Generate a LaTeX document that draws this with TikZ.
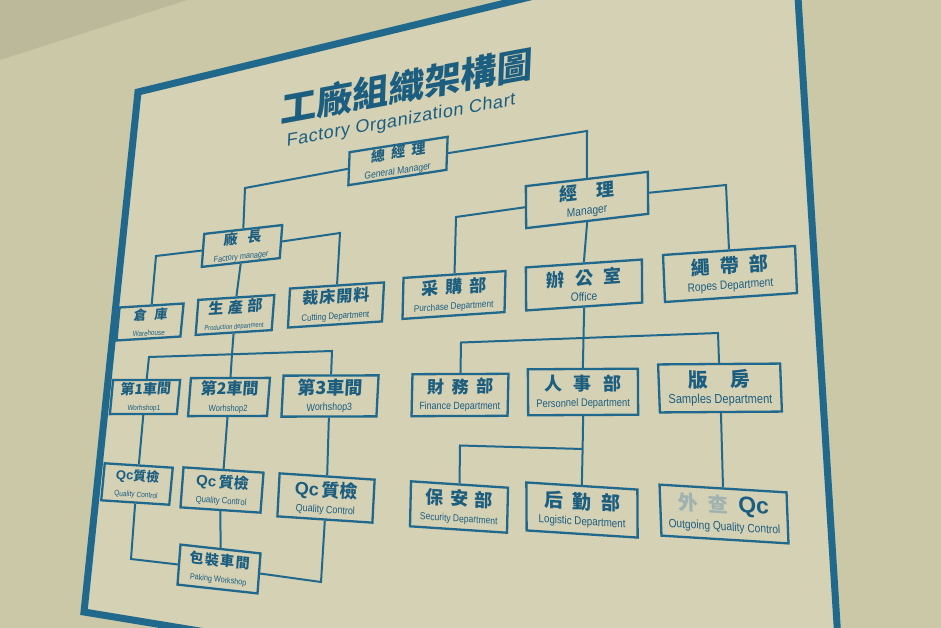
\documentclass[tikz,border=0pt]{standalone}
\usepackage{fontspec}
\newfontfamily\zh{Noto Sans CJK TC}
\newfontfamily\en[FakeStretch=0.85]{Liberation Sans}
\newfontfamily\enw{Liberation Sans}
\newfontfamily\ensub[LetterSpace=3]{Liberation Sans}
\definecolor{wall}{HTML}{CBC8A7}
\definecolor{ceil}{HTML}{BCB99B}
\definecolor{board}{HTML}{D5D1B5}
\definecolor{ink}{HTML}{1C5E80}
\definecolor{rule}{HTML}{21698C}
\definecolor{fade}{HTML}{9FB2B0}
\newcommand{\zsp}[1]{\hspace{#1em}}
\newcommand{\bt}[4]{{\zh\bfseries\fontsize{#1}{#1}\selectfont #2}\\[4.5pt]{\en\fontsize{#3}{#3}\selectfont #4}}
\newcommand{\qcb}{\enw\bfseries}
\begin{document}
\begin{tikzpicture}[x=1pt,y=-1pt,
  box/.style={draw=rule, line width=2.3pt, inner sep=1pt, align=center, text=ink},
  ln/.style={draw=rule, line width=2pt, line join=miter}]
\useasboundingbox (0,0) rectangle (941,628);
\clip (0,0) rectangle (941,628);
% wall, ceiling, board
\fill[wall] (0,0) rectangle (941,628);
\fill[ceil] (0,0) -- (187,0) -- (0,60) -- cycle;
\fill[board] (138,92) -- (794,-67) -- (844,737) -- (84,612) -- cycle;
\draw[rule, line width=7pt, line join=miter] (138,92) -- (794,-67) -- (844,737) -- (84,612) -- cycle;

% title
\node[text=ink, inner sep=0pt, cm={1,0.185,0.04,1,(0,0)}] (title) at (407,86)
  {\zh\bfseries\fontsize{36}{36}\selectfont 工廠組織架構圖};
\node[text=ink, inner sep=0pt, cm={1,0.18,0.04,1,(0,0)}] (subtitle) at (401,121)
  {\ensub\fontsize{18}{18}\selectfont Factory Organization Chart};

% level 1-2
\node[box, minimum width=98pt, minimum height=33pt, cm={1,0.157,0.038,1,(0,0)}] (gm) at (398,161)
  {\bt{14}{總\zsp{.45}經\zsp{.45}理}{10}{General Manager}};
\node[box, minimum width=122pt, minimum height=42pt, cm={1,0.117,-0.008,1,(0,0)}] (mg) at (587,200)
  {\bt{18}{經\zsp{1.1}理}{12}{Manager}};
\node[box, minimum width=78pt, minimum height=33pt, cm={1,0.113,0.075,1,(0,0)}] (fm) at (242,246)
  {\bt{14}{廠\zsp{.7}長}{8.5}{Factory manager}};

% level 3
\node[box, minimum width=64pt, minimum height=33pt, cm={1,0.062,0.096,1,(0,0)}] (wh) at (150,322)
  {\bt{13}{倉\zsp{.6}庫}{7.4}{Warehouse}};
\node[box, minimum width=76pt, minimum height=35pt, cm={1,0.063,0.076,1,(0,0)}] (pd) at (235,315)
  {\bt{15}{生\zsp{.3}產\zsp{.3}部}{6.9}{Production department}};
\node[box, minimum width=94pt, minimum height=39pt, cm={1,0.065,0.052,1,(0,0)}] (ct) at (336,305)
  {\bt{16}{裁\zsp{.05}床\zsp{.05}開\zsp{.05}料}{9.2}{Cutting Department}};
\node[box, minimum width=102pt, minimum height=41pt, cm={1,0.067,0.024,1,(0,0)}] (pu) at (454,295)
  {\bt{17}{采\zsp{.4}購\zsp{.4}部}{9.6}{Purchase Department}};
\node[box, minimum width=116pt, minimum height=43pt, cm={1,0.068,-0.007,1,(0,0)}] (of) at (584,285)
  {\bt{18}{辦\zsp{.6}公\zsp{.6}室}{12}{Office}};
\node[box, minimum width=132pt, minimum height=47pt, cm={1,0.068,-0.042,1,(0,0)}] (rp) at (730,274)
  {\bt{19}{繩\zsp{.55}帶\zsp{.55}部}{12}{Ropes Department}};

% workshops
\node[box, minimum width=67pt, minimum height=34pt, cm={1,0.003,0.095,1,(0,0)}] (w1) at (145,397)
  {\bt{14}{第1車間}{7.6}{Worhshop1}};
\node[box, minimum width=79pt, minimum height=38pt, cm={1,0.003,0.076,1,(0,0)}] (w2) at (229,397)
  {\bt{16}{第2車間}{9}{Worhshop2}};
\node[box, minimum width=95pt, minimum height=41pt, cm={1,0.003,0.052,1,(0,0)}] (w3) at (330,396)
  {\bt{18}{第3車間}{10.5}{Worhshop3}};

% quality control
\node[box, minimum width=68pt, minimum height=37pt, cm={1,-0.065,0.095,1,(0,0)}] (q1) at (137,484)
  {\bt{13}{{\qcb Qc}質檢}{7.7}{Quality Control}};
\node[box, minimum width=80pt, minimum height=40pt, cm={1,-0.066,0.076,1,(0,0)}] (q2) at (222,490)
  {\bt{15}{{\qcb Qc}\,質檢}{9}{Quality Control}};
\node[box, minimum width=95pt, minimum height=43pt, cm={1,-0.066,0.052,1,(0,0)}] (q3) at (326,498)
  {\bt{18}{{\qcb Qc}\,質檢}{10.5}{Quality Control}};
\node[box, minimum width=80pt, minimum height=40pt, cm={1,-0.11,0.075,1,(0,0)}] (pk) at (219,569)
  {\bt{14}{包\zsp{.1}裝\zsp{.1}車\zsp{.1}間}{8.5}{Paking Workshop}};

% office level
\node[box, minimum width=96pt, minimum height=42pt, cm={1,0.004,0.022,1,(0,0)}] (fi) at (460,395)
  {\bt{17}{財\zsp{.45}務\zsp{.45}部}{10.5}{Finance Department}};
\node[box, minimum width=110pt, minimum height=46pt, cm={1,0.005,-0.007,1,(0,0)}] (pe) at (583,392)
  {\bt{18}{人\zsp{.65}事\zsp{.65}部}{11}{Personnel Department}};
\node[box, minimum width=122pt, minimum height=48pt, cm={1,0.007,-0.038,1,(0,0)}] (sa) at (720,388)
  {\bt{20}{版\zsp{1.1}房}{13}{Samples Department}};
\node[box, minimum width=97pt, minimum height=45pt, cm={1,-0.066,0.022,1,(0,0)}] (se) at (459,507)
  {\bt{18}{保\zsp{.35}安\zsp{.35}部}{10}{Security Department}};
\node[box, minimum width=111pt, minimum height=48pt, cm={1,-0.064,-0.006,1,(0,0)}] (lo) at (582,510)
  {\bt{19}{后\zsp{.5}勤\zsp{.5}部}{11.5}{Logistic Department}};
\node[box, minimum width=127pt, minimum height=51pt, cm={1,-0.061,-0.038,1,(0,0)}] (oq) at (724,514)
  {\bt{20}{{\color{fade}外\zsp{.5}查}\zsp{.5}{\qcb\fontsize{23}{23}\selectfont Qc}}{12}{Outgoing Quality Control}};

% bend points
\coordinate (gl) at (245,188);
\coordinate (gr) at (587,131);
\coordinate (fl) at (156,256);
\coordinate (fr) at (340,233);
\coordinate (pb) at (232,354);
\coordinate (pbl) at (149,357);
\coordinate (pbr) at (332,351);
\coordinate (ql) at (131,559);
\coordinate (qr) at (321,582);
\coordinate (ml) at (456,217);
\coordinate (mr) at (726,185);
\coordinate (ob) at (583.5,338);
\coordinate (obl) at (461,342.5);
\coordinate (obr) at (718,333);
\coordinate (sb) at (582.6,449);
\coordinate (sbl) at (460,445.5);

% connectors
\draw[ln] (gm.west) -- (gl) -- (fm.north);
\draw[ln] (gm.east) -- (gr) -- (mg.north);
\draw[ln] (fm.west) -- (fl) -- (wh.north);
\draw[ln] (fm.south) -- (pd.north);
\draw[ln] (fm.east) -- (fr) -- (ct.north);
\draw[ln] (pd.south) -- (pb) -- (w2.north);
\draw[ln] (w1.north) -- (pbl) -- (pbr) -- (w3.north);
\draw[ln] (w1.south) -- (q1.north);
\draw[ln] (w2.south) -- (q2.north);
\draw[ln] (w3.south) -- (q3.north);
\draw[ln] (q1.south) -- (ql) -- (pk.west);
\draw[ln] (q2.south) -- (pk.north);
\draw[ln] (q3.south) -- (qr) -- (pk.east);
\draw[ln] (mg.west) -- (ml) -- (pu.north);
\draw[ln] (mg.south) -- (of.north);
\draw[ln] (mg.east) -- (mr) -- (rp.north);
\draw[ln] (of.south) -- (ob) -- (pe.north);
\draw[ln] (fi.north) -- (obl) -- (obr) -- (sa.north);
\draw[ln] (pe.south) -- (sb) -- (lo.north);
\draw[ln] (se.north) -- (sbl) -- (sb);
\draw[ln] (sa.south) -- (oq.north);
\end{tikzpicture}
\end{document}
